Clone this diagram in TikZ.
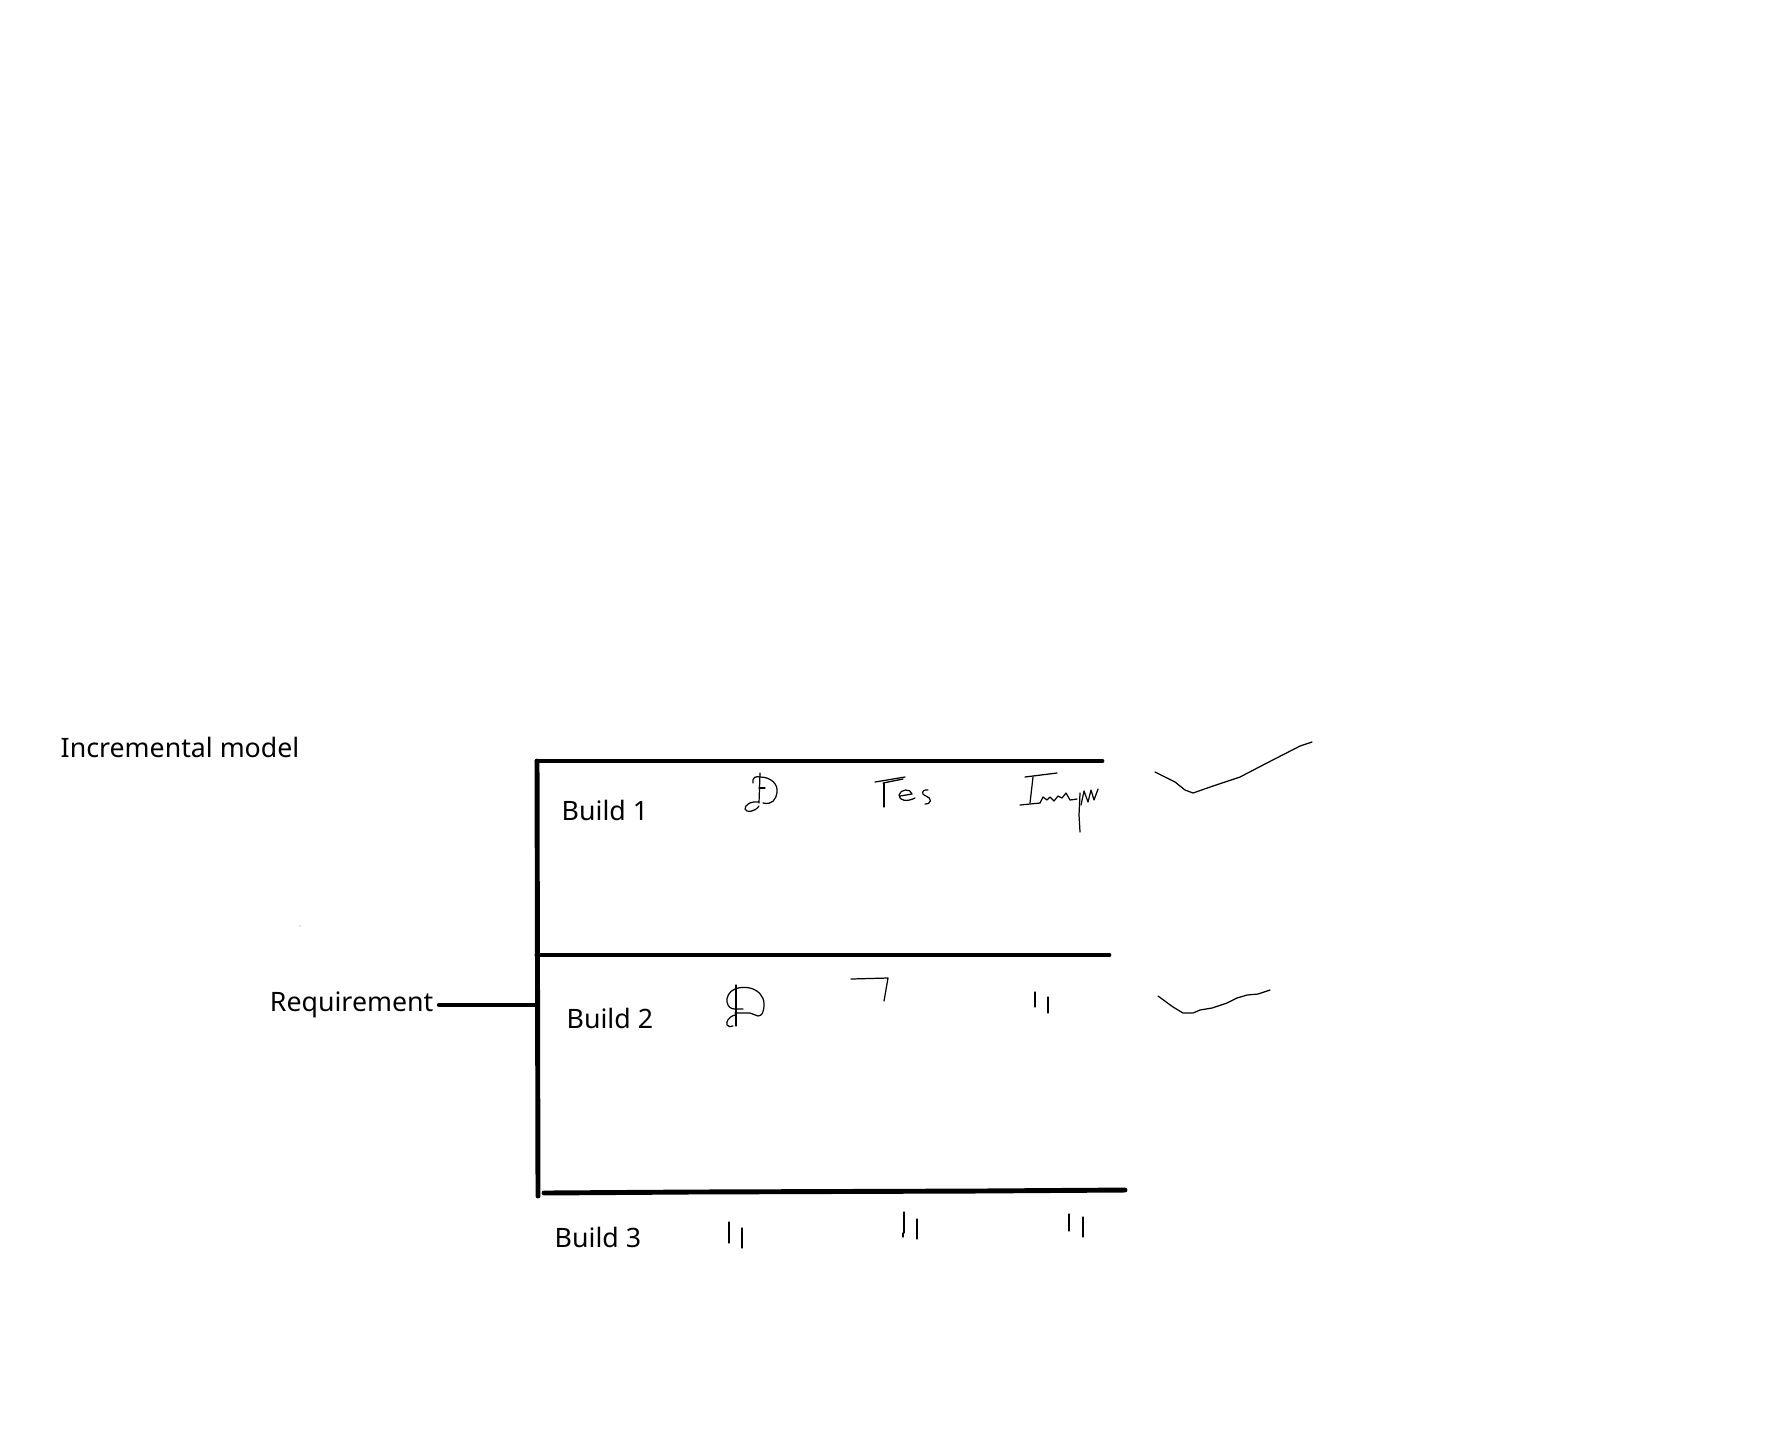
\documentclass[tikz,border=0pt]{standalone}
\usepackage{fontspec}
\setmainfont{Noto Sans}
\usetikzlibrary{positioning}
\tikzset{
  bar/.style={line width=1.4pt, line cap=round},
  scribble/.style={line width=0.35pt, line join=round, line cap=round},
  label/.style={font=\fontsize{7.6}{9}\selectfont, inner sep=0pt},
}

\begin{document}
\begin{tikzpicture}[x=0.01cm, y=-0.01cm]
  \useasboundingbox (0,0) rectangle (1789,1442);

  % title
  \node[label, anchor=west] (title) at (60,747) {Incremental model};

  % frame corners
  \coordinate (topL) at (537,761);
  \coordinate (topR) at (1102,761);
  \coordinate (midL) at (537,955);
  \coordinate (midR) at (1109,955);
  \coordinate (botL) at (538,1196);
  \coordinate (bot0) at (544,1193);
  \coordinate (bot1) at (690,1192);
  \coordinate (bot2) at (978,1191);
  \coordinate (botR) at (1125,1190);

  \draw[bar] (topL) -- (botL);
  \draw[bar] (topL) -- (topR);
  \draw[bar] (midL) -- (midR);
  \draw[bar] (bot0) -- (bot1) -- (bot2) -- (botR);

  % requirement
  \node[label, anchor=east] (req) at (434,1005) {Requirement};
  \coordinate (joint) at (req.east -| topL);
  \draw[bar] ([xshift=1.5]req.east) -- (joint);
  \fill[gray] (300,926) circle (0.6);

  % builds
  \node[label, anchor=west] (b1) at (561,810) {Build 1};
  \node[label, anchor=west] (b2) at (566,1018) {Build 2};
  \node[label, anchor=west] (b3) at (554,1237) {Build 3};

  % build 1 scribbles
  \draw[scribble] (760,773) -- (759,803);
  \draw[scribble] (753,783) .. controls (752,777) and (756,776) .. (760,777)
    .. controls (772,777) and (778,785) .. (777,792)
    .. controls (776,800) and (772,805) .. (763,803);
  \draw[scribble] (759,802) .. controls (750,801) and (745,805) .. (745,809)
    .. controls (746,813) and (755,812) .. (759,806);
  \draw[scribble] (759,788) -- (765,788);
  \draw[scribble] (875,782) -- (905,777);
  \draw[scribble] (883,783) -- (903,779);
  \draw[scribble] (884,783) -- (884,807);
  \draw[scribble] (900,796) -- (912,794) .. controls (911,788) and (900,789) .. (899,795)
    .. controls (899,801) and (907,802) .. (915,798);
  \draw[scribble] (928,790) .. controls (921,789) and (921,795) .. (926,796)
    .. controls (932,798) and (932,804) .. (925,804);
  \draw[scribble] (1025,777) -- (1057,773);
  \draw[scribble] (1033,777) -- (1030,803);
  \draw[scribble] (1020,805) -- (1040,803);
  \draw[scribble] (1040,803) -- (1043,797) -- (1047,800) -- (1050,797) -- (1054,801)
    -- (1058,796) -- (1062,798) -- (1066,793) -- (1070,800) -- (1077,799);
  \draw[scribble] (1080,793) -- (1079,815) -- (1080,832);
  \draw[scribble] (1081,805) -- (1084,791) -- (1088,802) -- (1091,790) -- (1094,800) -- (1098,789);
  \draw[scribble] (1155,772) -- (1175,782) -- (1185,790) -- (1193,793) -- (1213,786)
    -- (1240,777) -- (1263,765) -- (1300,746) -- (1312,742);

  % build 2 scribbles
  \draw[scribble] (736,985) -- (736,1026);
  \draw[scribble] (735,989) .. controls (740,987) and (745,987) .. (750,988)
    .. controls (758,990) and (764,996) .. (764,1004)
    .. controls (764,1012) and (762,1016) .. (758,1016) -- (750,1013) -- (735,1013);
  \draw[scribble] (735,989) .. controls (729,991) and (726,998) .. (727,1002)
    .. controls (728,1007) and (731,1009) .. (735,1009) -- (743,1009);
  \draw[scribble] (735,1015) .. controls (728,1017) and (726,1022) .. (727,1025)
    .. controls (728,1027) and (731,1027) .. (733,1026);
  \draw[scribble] (851,979) -- (888,978) -- (884,1001);
  \draw[scribble] (1035,992) -- (1035,1007);
  \draw[scribble] (1048,997) -- (1048,1013);
  \draw[scribble] (1158,996) -- (1173,1007) -- (1183,1013) -- (1193,1013) -- (1200,1010)
    -- (1212,1008) -- (1227,1003) -- (1237,998) -- (1247,995) -- (1258,994) -- (1270,990);

  % build 3 scribbles
  \draw[scribble] (729,1222) -- (729,1243);
  \draw[scribble] (742,1228) -- (742,1248);
  \draw[scribble] (904,1212) -- (904,1233);
  \draw[scribble] (903,1233) -- (903,1237);
  \draw[scribble] (917,1219) -- (917,1239);
  \draw[scribble] (1069,1214) -- (1069,1231);
  \draw[scribble] (1083,1217) -- (1083,1237);
\end{tikzpicture}
\end{document}
